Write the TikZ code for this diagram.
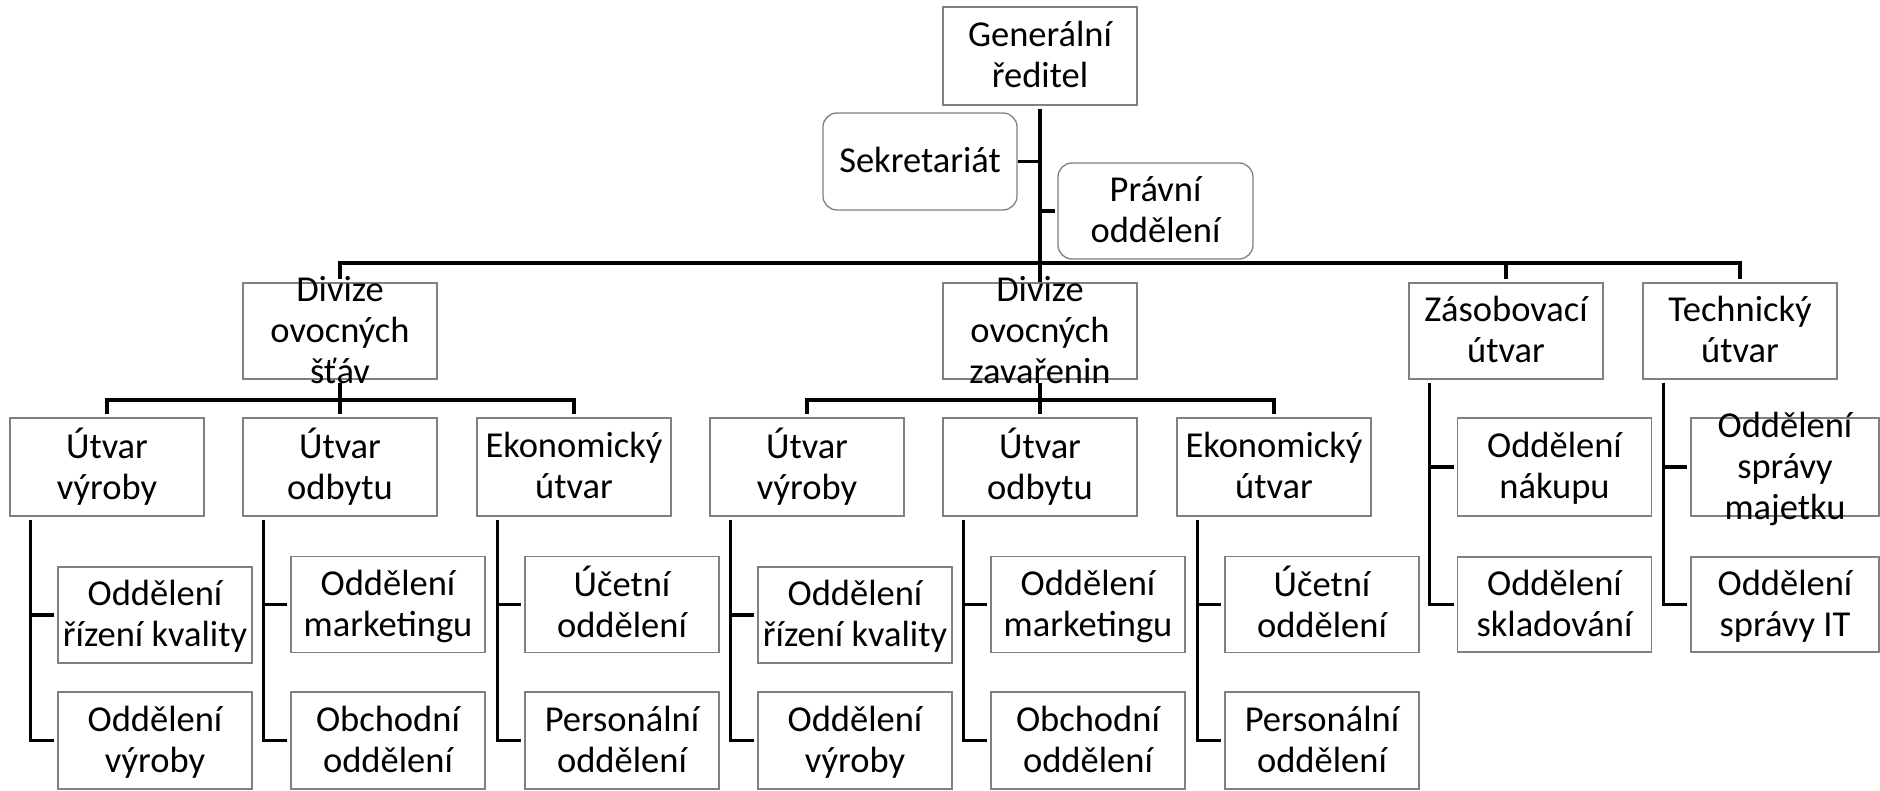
\documentclass[tikz,border=0pt]{standalone}
\usepackage{fontspec}
\setmainfont{Carlito}
\definecolor{boxgray}{RGB}{128,128,128}
\newcommand\tx[1]{\vbox to 0pt{\vss\kern6pt\hbox to 0pt{\hss\begin{tabular}{@{}c@{}}#1\end{tabular}\hss}\vss}}
\tikzset{
  box/.style={draw=boxgray, line width=1.3pt, fill=white, inner sep=0pt,
    minimum width=194pt, minimum height=#1, font=\fontsize{36.5}{41}\selectfont},
  box/.default=97pt,
  rbox/.style={box=#1, rounded corners=14pt},
  rbox/.default=97pt,
  conn/.style={draw=black, line width=3.1pt},
  gap/.style={shorten <=3pt, shorten >=3pt}
}
\begin{document}
\begin{tikzpicture}[x=1pt,y=-1pt]
\useasboundingbox (0,0) rectangle (1880,791);
% top
\node[box=98pt] (gr) at (1040,56) {\tx{Generální\\ředitel}};
\node[rbox] (sek) at (920,161.5) {\tx{Sekretariát}};
\node[rbox=96pt, minimum width=195pt] (pr) at (1155.5,211) {\tx{Právní\\oddělení}};
% level 2
\node[box=96pt] (d1) at (340,331) {\tx{Divize\\ovocných\\šťáv}};
\node[box=96pt] (d2) at (1040,331) {\tx{Divize\\ovocných\\zavařenin}};
\node[box=96pt] (z) at (1506,331) {\tx{Zásobovací\\útvar}};
\node[box=96pt] (t) at (1740,331) {\tx{Technický\\útvar}};
% level 3
\node[box=98pt] (a0) at (107,467) {\tx{Útvar\\výroby}};
\node[box=98pt] (a1) at (340,467) {\tx{Útvar\\odbytu}};
\node[box=98pt] (a2) at (574,467) {\tx{Ekonomický\\útvar}};
\node[box=98pt] (a3) at (807,467) {\tx{Útvar\\výroby}};
\node[box=98pt] (a4) at (1040,467) {\tx{Útvar\\odbytu}};
\node[box=98pt] (a5) at (1274,467) {\tx{Ekonomický\\útvar}};
% level 4
\node[box=96pt] (u0) at (155,615) {\tx{Oddělení\\řízení kvality}};
\node[box=96pt] (u1) at (388,604.5) {\tx{Oddělení\\marketingu}};
\node[box=96pt] (u2) at (622,604.5) {\tx{Účetní\\oddělení}};
\node[box=96pt] (u3) at (855,615) {\tx{Oddělení\\řízení kvality}};
\node[box=96pt] (u4) at (1088,604.5) {\tx{Oddělení\\marketingu}};
\node[box=96pt] (u5) at (1322,604.5) {\tx{Účetní\\oddělení}};
\node[box] (b0) at (155,740.5) {\tx{Oddělení\\výroby}};
\node[box] (b1) at (388,740.5) {\tx{Obchodní\\oddělení}};
\node[box] (b2) at (622,740.5) {\tx{Personální\\oddělení}};
\node[box] (b3) at (855,740.5) {\tx{Oddělení\\výroby}};
\node[box] (b4) at (1088,740.5) {\tx{Obchodní\\oddělení}};
\node[box] (b5) at (1322,740.5) {\tx{Personální\\oddělení}};
\node[box=98pt] (zu) at (1554.5,467) {\tx{Oddělení\\nákupu}};
\node[box=95pt] (zb) at (1554.5,604.5) {\tx{Oddělení\\skladování}};
\node[box=98pt, minimum width=188pt] (tu) at (1785,467) {\tx{Oddělení\\správy\\majetku}};
\node[box=95pt, minimum width=188pt] (tb) at (1785,604.5) {\tx{Oddělení\\správy IT}};
% connectors
\coordinate (bar) at (0,263);
\coordinate (sb) at (0,400);
\draw[conn, shorten <=3pt] (gr.south) -- (d2.north);
\draw[conn] (sek.east) -- (sek.east -| gr.south);
\draw[conn, shorten <=2pt] (pr.west) -- (pr.west -| gr.south);
\draw[conn, gap] (d1.north) -- (d1.north |- bar) -- (t.north |- bar) -- (t.north);
\draw[conn, shorten <=3pt] (z.north) -- (z.north |- bar);
\draw[conn, gap] (d1.south) -- (a1.north);
\draw[conn, gap] (a0.north) -- (a0.north |- sb) -- (a2.north |- sb) -- (a2.north);
\draw[conn, gap] (d2.south) -- (a4.north);
\draw[conn, gap] (a3.north) -- (a3.north |- sb) -- (a5.north |- sb) -- (a5.north);
\foreach \p/\u/\b in {a0/u0/b0,a1/u1/b1,a2/u2/b2,a3/u3/b3,a4/u4/b4,a5/u5/b5,z/zu/zb,t/tu/tb}{
  \coordinate (v) at ([xshift=21pt]\p.south west);
  \draw[conn, gap] (v) |- (\b.west);
  \draw[conn, shorten >=3pt] (v |- \u.west) -- (\u.west);
}
\end{tikzpicture}
\end{document}
